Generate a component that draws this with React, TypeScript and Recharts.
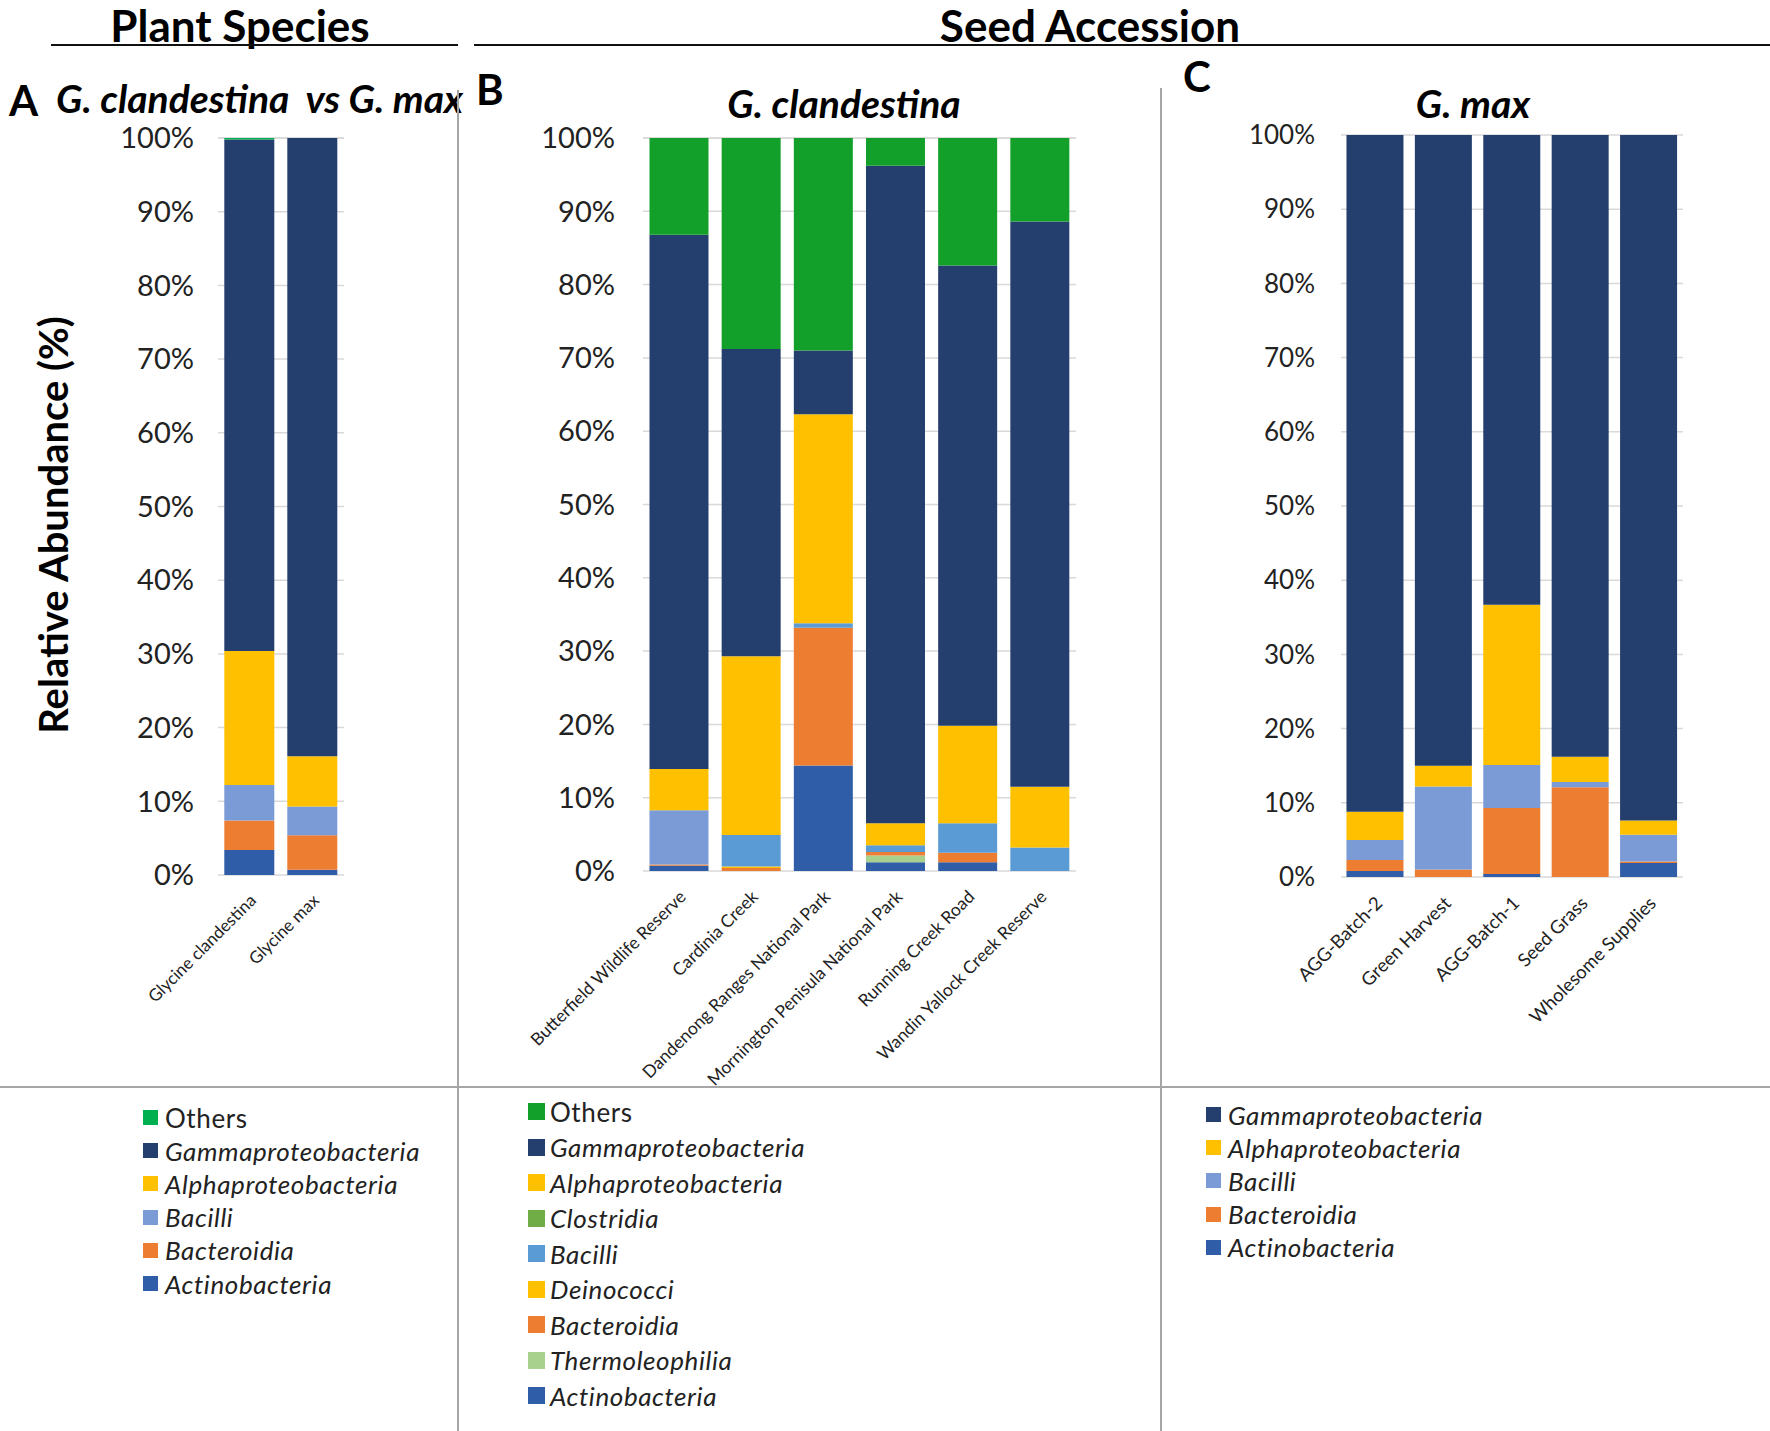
import React from "react";
import { BarChart, Bar, XAxis, YAxis, CartesianGrid, Cell } from "recharts";

// ---- data (relative abundance, %) ----
const speciesNames = ["Glycine clandestina", "Glycine max"];
const aActino = [3.4, 0.7];
const aBacteroidia = [4.0, 4.7];
const aBacilli = [4.8, 3.9];
const aAlpha = [18.2, 6.8];
const aGamma = [69.4, 83.9];
const aOthers = [0.2, 0];

const clandSites = [
  "Butterfield Wildlife Reserve",
  "Cardinia Creek",
  "Dandenong Ranges National Park",
  "Mornington Penisula National Park",
  "Running Creek Road",
  "Wandin Yallock Creek Reserve",
];
const bActino = [0.7, 0, 14.4, 1.2, 1.2, 0];
const bThermo = [0, 0, 0, 0.9, 0, 0];
const bBacteroidia = [0.2, 0.4, 18.8, 0.5, 1.3, 0];
const bDeino = [0, 0.2, 0, 0, 0, 0];
const bBacilli = [7.4, 4.3, 0.6, 0.9, 4.0, 3.2];
const bClostridia = [0, 0, 0, 0, 0, 0];
const bAlpha = [5.6, 24.4, 28.5, 3.0, 13.3, 8.3];
const bGamma = [72.9, 41.9, 8.7, 89.7, 62.8, 77.1];
const bOthers = [13.2, 28.8, 29.0, 3.8, 17.4, 11.4];

const maxSources = ["AGG-Batch-2", "Green Harvest", "AGG-Batch-1", "Seed Grass", "Wholesome Supplies"];
const cActino = [0.8, 0, 0.4, 0, 1.9];
const cBacteroidia = [1.5, 1.0, 8.9, 12.1, 0.2];
const cBacilli = [2.7, 11.2, 5.8, 0.7, 3.6];
const cAlpha = [3.8, 2.8, 21.6, 3.4, 1.9];
const cGamma = [91.2, 85.0, 63.3, 83.8, 92.4];

const yTicks = [0, 10, 20, 30, 40, 50, 60, 70, 80, 90, 100];

// ---- colours ----
const GREEN_A = "#00B050";
const GREEN_B = "#13A02A";
const NAVY = "#243F6E";
const GOLD = "#FFC000";
const LAVENDER = "#7B9BD6";
const SKY = "#5B9BD5";
const ORANGE = "#ED7D31";
const BLUE = "#2F5DA8";
const LEAF = "#70AD47";
const MINT = "#A9D18E";

const FONT = "Lato, 'Open Sans', sans-serif";

interface Series {
  key: string;
  label: string;
  color: string;
  values: number[];
  italic: boolean;
  cellColors?: (string | null)[];
}

// stacking order is bottom -> top
const seriesA: Series[] = [
  { key: "actino", label: "Actinobacteria", color: BLUE, values: aActino, italic: true },
  { key: "bacteroidia", label: "Bacteroidia", color: ORANGE, values: aBacteroidia, italic: true },
  { key: "bacilli", label: "Bacilli", color: LAVENDER, values: aBacilli, italic: true },
  { key: "alpha", label: "Alphaproteobacteria", color: GOLD, values: aAlpha, italic: true },
  { key: "gamma", label: "Gammaproteobacteria", color: NAVY, values: aGamma, italic: true },
  { key: "others", label: "Others", color: GREEN_A, values: aOthers, italic: false },
];

const seriesB: Series[] = [
  { key: "actino", label: "Actinobacteria", color: BLUE, values: bActino, italic: true },
  { key: "thermo", label: "Thermoleophilia", color: MINT, values: bThermo, italic: true },
  { key: "bacteroidia", label: "Bacteroidia", color: ORANGE, values: bBacteroidia, italic: true },
  { key: "deino", label: "Deinococci", color: GOLD, values: bDeino, italic: true },
  {
    key: "bacilli", label: "Bacilli", color: SKY, values: bBacilli, italic: true,
    cellColors: [LAVENDER, null, null, null, null, null],
  },
  { key: "clostridia", label: "Clostridia", color: LEAF, values: bClostridia, italic: true },
  { key: "alpha", label: "Alphaproteobacteria", color: GOLD, values: bAlpha, italic: true },
  { key: "gamma", label: "Gammaproteobacteria", color: NAVY, values: bGamma, italic: true },
  { key: "others", label: "Others", color: GREEN_B, values: bOthers, italic: false },
];

const seriesC: Series[] = [
  { key: "actino", label: "Actinobacteria", color: BLUE, values: cActino, italic: true },
  { key: "bacteroidia", label: "Bacteroidia", color: ORANGE, values: cBacteroidia, italic: true },
  { key: "bacilli", label: "Bacilli", color: LAVENDER, values: cBacilli, italic: true },
  { key: "alpha", label: "Alphaproteobacteria", color: GOLD, values: cAlpha, italic: true },
  { key: "gamma", label: "Gammaproteobacteria", color: NAVY, values: cGamma, italic: true },
];

function buildRows(names: string[], series: Series[]) {
  return names.map((name, i) => {
    const row: Record<string, string | number> = { name };
    series.forEach((s) => (row[s.key] = s.values[i]));
    return row;
  });
}

// eslint-disable-next-line @typescript-eslint/no-explicit-any
function SlantTick({ x, y, payload, fontSize }: any) {
  return (
    <g transform={`translate(${x - 2},${y + 9})`}>
      <text
        textAnchor="end"
        transform="rotate(-45)"
        fontSize={fontSize}
        fontFamily={FONT}
        fill="#222"
        dy="0.8em"
      >
        {payload.value}
      </text>
    </g>
  );
}

interface PanelProps {
  names: string[];
  series: Series[];
  left: number;
  top: number;
  width: number;
  height: number;
  yWidth: number;
  xHeight: number;
  gap: string;
  yFont: number;
  xFont: number;
  tickGap: number;
}

function Panel({ names, series, left, top, width, height, yWidth, xHeight, gap, yFont, xFont, tickGap }: PanelProps) {
  const rows = buildRows(names, series);
  return (
    <div style={{ position: "absolute", left, top }}>
      <BarChart
        width={width}
        height={height}
        data={rows}
        margin={{ top: 20, right: 6, left: 0, bottom: 0 }}
        barCategoryGap={gap}
      >
        <CartesianGrid vertical={false} stroke="#D9D9D9" strokeWidth={1.5} />
        <XAxis
          dataKey="name"
          interval={0}
          axisLine={false}
          tickLine={false}
          height={xHeight}
          tick={<SlantTick fontSize={xFont} />}
        />
        <YAxis
          domain={[0, 100]}
          ticks={yTicks}
          width={yWidth}
          axisLine={false}
          tickLine={false}
          tickMargin={tickGap}
          tickFormatter={(v) => `${v}%`}
          tick={{ fontSize: yFont, fill: "#222", fontFamily: FONT }}
        />
        {series.map((s) => (
          <Bar key={s.key} dataKey={s.key} stackId="s" fill={s.color} isAnimationActive={false}>
            {s.cellColors &&
              rows.map((_, i) => <Cell key={i} fill={s.cellColors![i] ?? s.color} />)}
          </Bar>
        ))}
      </BarChart>
    </div>
  );
}

function LegendBlock({ series, left, top, step, box, textGap }: { series: Series[]; left: number; top: number; step: number; box: number; textGap: number }) {
  const items = [...series].reverse();
  return (
    <div style={{ position: "absolute", left, top, fontFamily: FONT, color: "#222" }}>
      {items.map((s, i) => (
        <div
          key={s.key}
          style={{ position: "absolute", top: i * step, left: 0, display: "flex", alignItems: "center", whiteSpace: "nowrap", height: step }}
        >
          <div style={{ width: box, height: box, background: s.color, marginRight: textGap }} />
          <span style={{ fontSize: 26, fontStyle: s.italic ? "italic" : "normal", letterSpacing: 0.6 }}>{s.label}</span>
        </div>
      ))}
    </div>
  );
}

const abs = (style: React.CSSProperties): React.CSSProperties => ({ position: "absolute", whiteSpace: "nowrap", lineHeight: 1, ...style });

export default function App() {
  return (
    <div style={{ position: "absolute", left: 0, top: 0, width: 1770, height: 1431, background: "#fff", fontFamily: FONT, overflow: "hidden" }}>
      {/* section headers */}
      <div style={abs({ left: 0, width: 480, top: 3, textAlign: "center", fontSize: 44, fontWeight: 700 })}>Plant Species</div>
      <div style={abs({ left: 890, width: 400, top: 3, textAlign: "center", fontSize: 44, fontWeight: 700 })}>Seed Accession</div>
      <div style={abs({ left: 51, top: 44, width: 407, height: 2, background: "#111" })} />
      <div style={abs({ left: 474, top: 44, width: 1296, height: 2, background: "#111" })} />

      {/* panel titles */}
      <div style={abs({ left: 9, top: 79, fontSize: 42, fontWeight: 700 })}>A</div>
      <div style={abs({ left: 56, top: 79, fontSize: 39, fontWeight: 700, fontStyle: "italic" })}>G. clandestina&nbsp; vs G. max</div>
      <div style={abs({ left: 476, top: 68, fontSize: 42, fontWeight: 700 })}>B</div>
      <div style={abs({ left: 634, width: 420, top: 84, textAlign: "center", fontSize: 39, fontWeight: 700, fontStyle: "italic" })}>G. clandestina</div>
      <div style={abs({ left: 1183, top: 55, fontSize: 42, fontWeight: 700 })}>C</div>
      <div style={abs({ left: 1333, width: 280, top: 84, textAlign: "center", fontSize: 39, fontWeight: 700, fontStyle: "italic" })}>G. max</div>

      {/* dividers */}
      <div style={abs({ left: 457, top: 90, width: 2, height: 1341, background: "#A6A6A6" })} />
      <div style={abs({ left: 1160, top: 88, width: 2, height: 1343, background: "#A6A6A6" })} />
      <div style={abs({ left: 0, top: 1086, width: 1770, height: 2, background: "#A6A6A6" })} />

      {/* y axis title */}
      <div style={abs({ left: 53, top: 525, fontSize: 40, fontWeight: 700, transform: "translate(-50%, -50%) rotate(-90deg)" })}>
        Relative Abundance (%)
      </div>

      <Panel names={speciesNames} series={seriesA} left={100} top={118} width={250} height={937} yWidth={118} xHeight={180} gap="10%" yFont={29} xFont={17} tickGap={18} />
      <Panel names={clandSites} series={seriesB} left={520} top={118} width={562} height={993} yWidth={123} xHeight={240} gap="9%" yFont={29} xFont={17.5} tickGap={22} />
      <Panel names={maxSources} series={seriesC} left={1215} top={115} width={474} height={942} yWidth={126} xHeight={180} gap="8%" yFont={26} xFont={18.5} tickGap={20} />

      <LegendBlock series={seriesA} left={143} top={1101} step={33.2} box={15} textGap={7} />
      <LegendBlock series={seriesB} left={528} top={1094} step={35.5} box={17} textGap={5} />
      <LegendBlock series={seriesC} left={1206} top={1098} step={33.2} box={15} textGap={7} />
    </div>
  );
}
